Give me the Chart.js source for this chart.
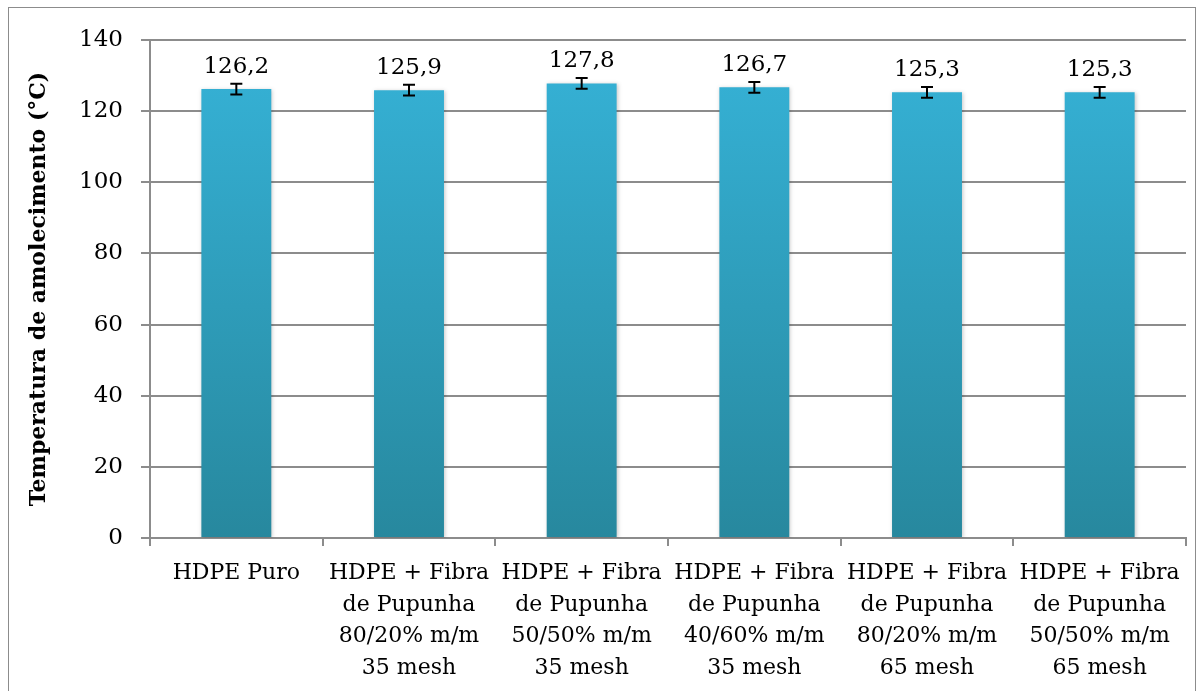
<!DOCTYPE html>
<html>
<head>
<meta charset="utf-8">
<script src="https://cdn.jsdelivr.net/npm/chart.js@4.4.1/dist/chart.umd.min.js"></script>
<style>
  html, body { margin: 0; padding: 0; background: #fff; }
  #wrap { width: 1204px; height: 691px; position: relative; }
</style>
</head>
<body>
<div id="wrap"><canvas id="chart" width="1204" height="691"></canvas></div>
<script>
// categories and values
const categories = [
  ["HDPE Puro"],
  ["HDPE + Fibra", "de Pupunha", "80/20% m/m", "35 mesh"],
  ["HDPE + Fibra", "de Pupunha", "50/50% m/m", "35 mesh"],
  ["HDPE + Fibra", "de Pupunha", "40/60% m/m", "35 mesh"],
  ["HDPE + Fibra", "de Pupunha", "80/20% m/m", "65 mesh"],
  ["HDPE + Fibra", "de Pupunha", "50/50% m/m", "65 mesh"]
];
const values = [126.2, 125.9, 127.8, 126.7, 125.3, 125.3];
const errors = [1.5, 1.5, 1.5, 1.5, 1.5, 1.5];
const yTicks = [0, 20, 40, 60, 80, 100, 120, 140];

const FONT = "'DejaVu Serif', serif";

// frame around the whole picture
const framePlugin = {
  id: "frame",
  beforeDraw(chart) {
    const c = chart.ctx;
    c.save();
    c.strokeStyle = "#8c8c8c";
    c.lineWidth = 1;
    c.strokeRect(8.5, 7.5, 1187, 700);
    c.restore();
  }
};

// soft shadow under the bars
const shadowPlugin = {
  id: "barShadow",
  beforeDatasetsDraw(chart) {
    const c = chart.ctx;
    c.save();
    c.shadowColor = "rgba(0,0,0,0.22)";
    c.shadowBlur = 4;
    c.shadowOffsetX = 1;
    c.shadowOffsetY = 1;
  },
  afterDatasetsDraw(chart) {
    chart.ctx.restore();
  }
};

// error bars + value labels
const errLabelPlugin = {
  id: "errLabel",
  afterDatasetsDraw(chart) {
    const c = chart.ctx;
    const meta = chart.getDatasetMeta(0);
    const y = chart.scales.y;
    c.save();
    meta.data.forEach((bar, i) => {
      const x = bar.x;
      const hi = y.getPixelForValue(values[i] + errors[i]);
      const lo = y.getPixelForValue(values[i] - errors[i]);
      c.strokeStyle = "#000";
      c.lineWidth = 2;
      c.beginPath();
      c.moveTo(x, hi); c.lineTo(x, lo);
      c.moveTo(x - 6, hi); c.lineTo(x + 6, hi);
      c.moveTo(x - 6, lo); c.lineTo(x + 6, lo);
      c.stroke();
      c.fillStyle = "#000";
      c.font = "23px " + FONT;
      c.textAlign = "center";
      c.textBaseline = "alphabetic";
      c.fillText(values[i].toFixed(1).replace(".", ","), x, hi - 11);
    });
    c.restore();
  }
};

const ctx = document.getElementById("chart").getContext("2d");
new Chart(ctx, {
  type: "bar",
  data: {
    labels: categories,
    datasets: [{
      data: values,
      backgroundColor: function (context) {
        const area = context.chart.chartArea;
        if (!area) return "#31a5c6";
        const g = context.chart.ctx.createLinearGradient(0, area.top, 0, area.bottom);
        g.addColorStop(0, "#36b3d8");
        g.addColorStop(1, "#27889e");
        return g;
      },
      borderWidth: 0,
      barPercentage: 0.405,
      categoryPercentage: 1
    }]
  },
  options: {
    responsive: false,
    animation: false,
    devicePixelRatio: 1,
    layout: { padding: { left: 0, right: 18, top: 40, bottom: 0 } },
    plugins: {
      legend: { display: false },
      tooltip: { enabled: false }
    },
    scales: {
      x: {
        grid: {
          display: true,
          offset: true,
          drawOnChartArea: false,
          drawTicks: true,
          tickLength: 8,
          color: "#8c8c8c",
          lineWidth: 2
        },
        border: { display: true, color: "#8c8c8c", width: 2 },
        ticks: {
          color: "#000",
          font: { family: FONT, size: 22, lineHeight: 1.45 },
          padding: 11,
          maxRotation: 0,
          autoSkip: false
        },
        afterFit(scale) { scale.height = 153; }
      },
      y: {
        min: 0,
        max: 140,
        afterBuildTicks(scale) { scale.ticks = yTicks.map(v => ({ value: v })); },
        grid: {
          color: "#8c8c8c",
          lineWidth: 2,
          tickLength: 9
        },
        border: { display: true, color: "#8c8c8c", width: 2 },
        ticks: {
          color: "#000",
          font: { family: FONT, size: 23 },
          padding: 18
        },
        title: {
          display: true,
          text: "Temperatura de amolecimento (°C)",
          color: "#000",
          font: { family: FONT, size: 22, weight: "bold" },
          padding: { top: 26, bottom: 0 }
        },
        afterFit(scale) { scale.width = 150; }
      }
    }
  },
  plugins: [framePlugin, shadowPlugin, errLabelPlugin]
});
</script>
</body>
</html>
